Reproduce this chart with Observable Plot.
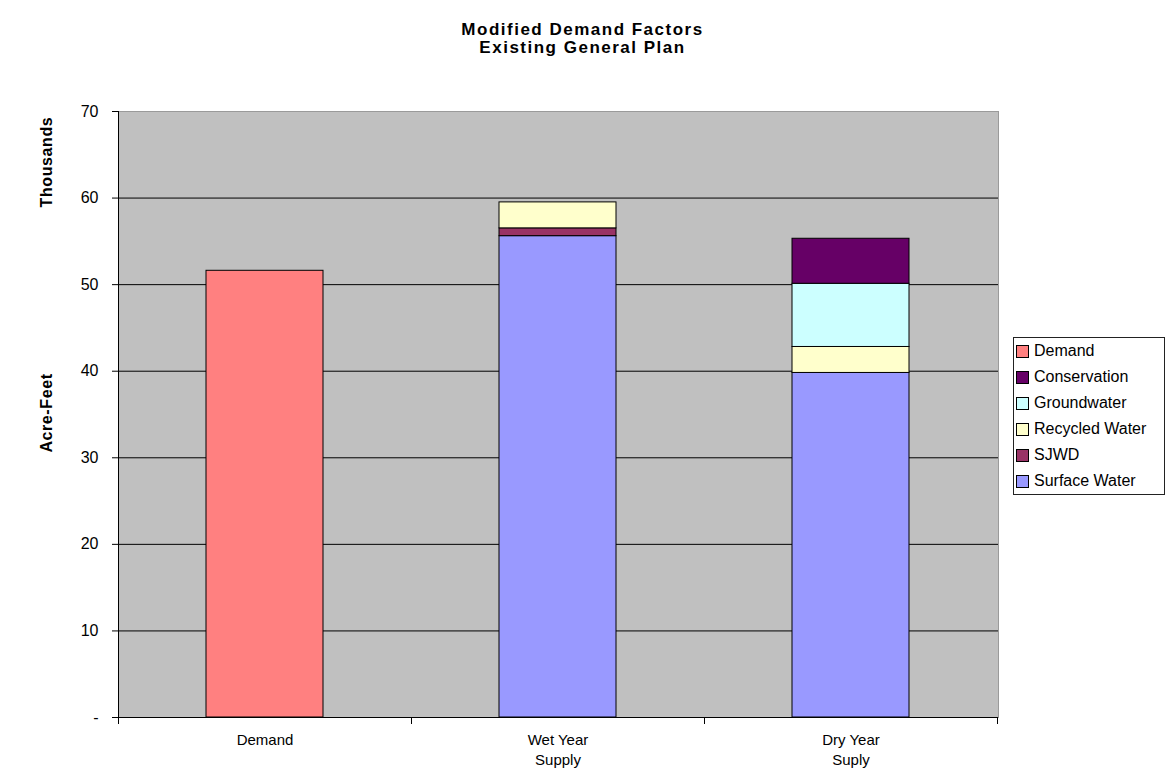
<!DOCTYPE html>
<html>
<head>
<meta charset="utf-8">
<script src="https://cdn.jsdelivr.net/npm/d3@7"></script>
<script src="https://cdn.jsdelivr.net/npm/@observablehq/plot@0.6"></script>
<style>
  body { margin: 0; background: #fff; font-family: "Liberation Sans", Arial, sans-serif; }
  #chart { position: relative; width: 1165px; height: 773px; overflow: hidden; }
  #chart svg { position: absolute; left: 0; top: 0; }
  .title { position: absolute; left: 0; width: 1165px; text-align: center; font-weight: bold;
           font-size: 17px; letter-spacing: 1.5px; line-height: 18px; top: 21px; }
  .ylab { position: absolute; font-weight: bold; font-size: 16px; letter-spacing: 0.6px;
          white-space: nowrap; transform: translate(-50%, -50%) rotate(-90deg); }
  .legend { position: absolute; left: 1013px; top: 337px; width: 150px; border: 1px solid #222;
            background: #fff; font-size: 16px; }
  .legend .item { height: 26px; display: flex; align-items: center; white-space: nowrap; }
  .legend .sw { width: 11px; height: 11px; border: 1px solid #000; margin: 0 5px 0 2px; flex: none; }
</style>
</head>
<body>
<div id="chart">
  <div class="title">Modified Demand Factors<br>Existing General Plan</div>
  <div class="ylab" style="left:47px; top:162px;">Thousands</div>
  <div class="ylab" style="left:47px; top:413px;">Acre-Feet</div>
</div>
<script>
// Categories along the x axis (line breaks split the tick labels)
const categories = ["Demand", "Wet Year\nSupply", "Dry Year\nSuply"];

// Series in legend order, with their fills
const series = ["Demand", "Conservation", "Groundwater", "Recycled Water", "SJWD", "Surface Water"];
const colors = ["#FF8080", "#660066", "#CCFFFF", "#FFFFCC", "#993366", "#9999FF"];

// Stacking order from the bottom of each column upward
const stackOrder = ["Demand", "Surface Water", "SJWD", "Recycled Water", "Groundwater", "Conservation"];

// Values in thousands of acre-feet, one entry per category
const demand       = [51.6, 0, 0];
const surfaceWater = [0, 55.6, 39.8];
const sjwd         = [0, 0.9, 0];
const recycled     = [0, 3.0, 3.0];
const groundwater  = [0, 0, 7.3];
const conservation = [0, 0, 5.2];

// Y axis ticks
const yTicks = [0, 10, 20, 30, 40, 50, 60, 70];
const gridTicks = [10, 20, 30, 40, 50, 60];

const valuesBySeries = {
  "Demand": demand,
  "Surface Water": surfaceWater,
  "SJWD": sjwd,
  "Recycled Water": recycled,
  "Groundwater": groundwater,
  "Conservation": conservation
};

const rows = [];
categories.forEach((c, i) => {
  for (const s of stackOrder) {
    const v = valuesBySeries[s][i];
    if (v > 0) rows.push({category: c, series: s, value: v});
  }
});

// Axis line on the left plus tick marks at the category boundaries
function categoryBoundaries(index, scales, values, dims) {
  const x = scales.x;
  const bw = x.bandwidth();
  const step = x.step ? x.step() : (dims.width - dims.marginLeft - dims.marginRight) / categories.length;
  const y0 = dims.height - dims.marginBottom;
  const g = d3.create("svg:g").attr("stroke", "#000").attr("stroke-width", 1);
  const left = dims.marginLeft + 0.5;
  g.append("line").attr("x1", left).attr("x2", left).attr("y1", dims.marginTop).attr("y2", y0 + 7);
  for (const c of categories) {
    const xb = Math.round(x(c) + bw + (step - bw) / 2) + 0.5;
    g.append("line").attr("x1", xb).attr("x2", xb).attr("y1", y0).attr("y2", y0 + 7);
  }
  return g.node();
}

const chart = Plot.plot({
  width: 1165,
  height: 773,
  marginLeft: 118,
  marginRight: 167,
  marginTop: 111,
  marginBottom: 56,
  style: {fontFamily: '"Liberation Sans", Arial, sans-serif', fontSize: "16px", color: "#000", background: "transparent"},
  x: {domain: categories, paddingInner: 0.6, paddingOuter: 0.3, label: null, axis: null},
  y: {domain: [0, 70], label: null, axis: null},
  color: {domain: series, range: colors},
  marks: [
    Plot.frame({fill: "#C0C0C0", stroke: "#9a9a9a"}),
    Plot.ruleY(gridTicks, {stroke: "#000", strokeWidth: 1}),
    Plot.barY(rows, {x: "category", y: "value", fill: "series", stroke: "#000", strokeWidth: 1}),
    Plot.ruleY([0], {stroke: "#000", strokeWidth: 1}),
    Plot.axisY({ticks: yTicks, tickFormat: d => d === 0 ? "-" : String(d), tickSize: 6, tickPadding: 14, fontSize: 16, label: null}),
    Plot.axisX({tickSize: 0, tickPadding: 14, lineHeight: 1.3, fontSize: 15, label: null}),
    categoryBoundaries
  ]
});

const root = document.getElementById("chart");
root.insertBefore(chart, root.firstChild);

// Legend
const legend = document.createElement("div");
legend.className = "legend";
series.forEach((s, i) => {
  const item = document.createElement("div");
  item.className = "item";
  const sw = document.createElement("span");
  sw.className = "sw";
  sw.style.background = colors[i];
  const label = document.createElement("span");
  label.textContent = s;
  item.appendChild(sw);
  item.appendChild(label);
  legend.appendChild(item);
});
root.appendChild(legend);
</script>
</body>
</html>
